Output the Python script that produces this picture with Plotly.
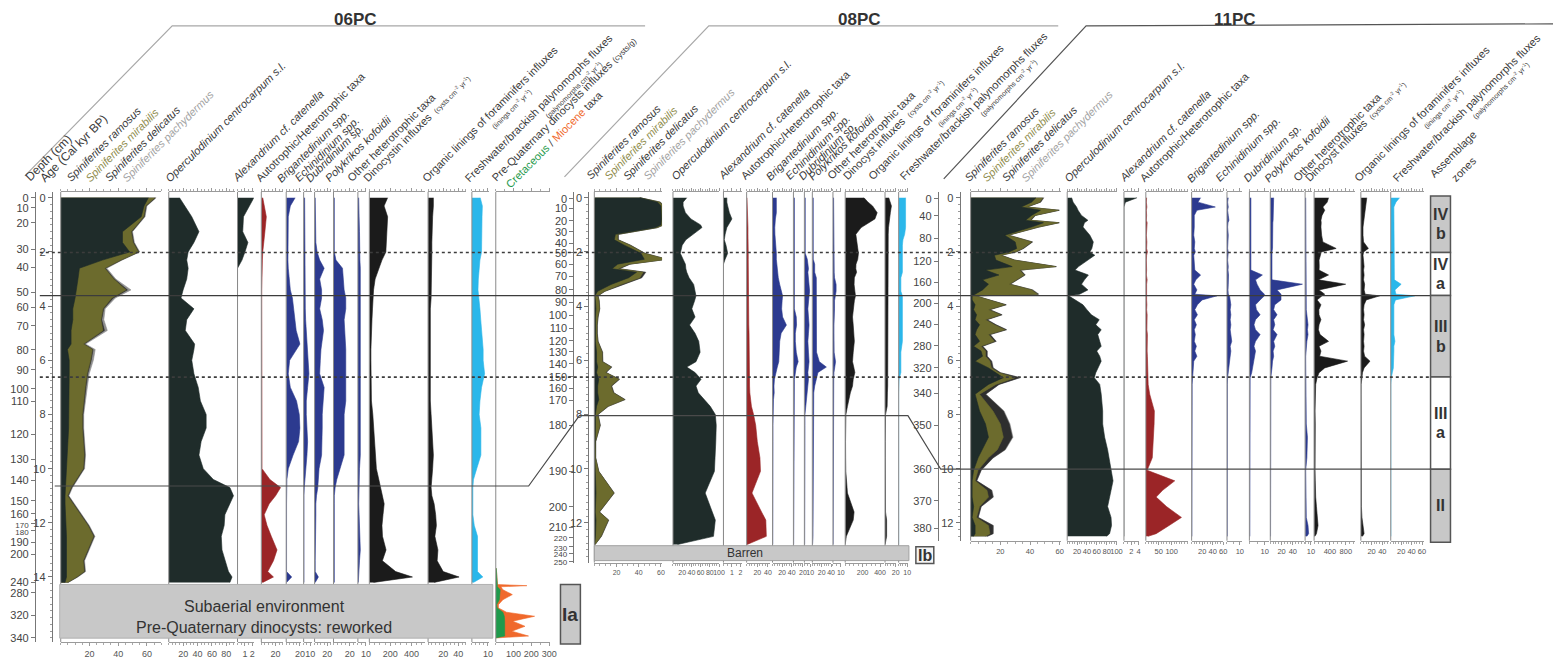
import plotly.graph_objects as go

W, H = 1562, 663
FONT = "Liberation Sans"
TXT = "#3a3a3a"

# Common vertical scale: every core is drawn against calibrated age (kyr BP)
AGE0_PX, PX_PER_KYR, TOP_PX = 199.0, 27.25, 193.0


def px_x(p):
    return p / W


def px_y(p):
    return 1.0 - p / H


def px_age(p):
    return (p - AGE0_PX) / PX_PER_KYR


C_DARK = "#1f2c2a"
C_MIR = "#6c6b2d"
C_DEL = "#2e2e2e"
C_PACH = "#8f8f8f"
C_RED = "#9b2527"
C_NAVY = "#2c3a8f"
C_BLACK = "#1b1b1b"
C_CYAN = "#2bb7ea"
C_CRET = "#1f9a4c"
C_MIOC = "#f0692c"

# ===================== core 06PC =====================
age06 = [0.0, 0.3, 0.7, 1.25, 1.65, 2.0, 2.3, 2.6, 3.0, 3.4, 3.7, 4.1, 4.5, 4.9, 5.4, 5.6, 6.0, 6.5, 7.0,
         7.5, 8.0, 8.5, 9.0, 9.5, 10.0, 10.4, 10.7, 11.0, 11.3, 11.7, 12.1, 12.5, 13.0, 13.4, 13.8, 14.0, 14.2]
ram06 = [61, 58, 56, 43, 43, 48, 29, 13, 12, 11, 10, 8.4, 8.4, 7.2, 7.2, 4.7, 5.9, 5.9, 5.9, 5.9, 6, 5.5,
         5, 4.5, 4, 3.5, 3, 3, 3, 3.5, 4, 4, 4, 4, 4, 4, 3]
mir06 = [4.5, 1, 1.7, 6, 7.3, 6, 12.7, 17.6, 24.8, 34.4, 25.5, 21, 19.6, 22.2, 8.6, 17.3, 14.8, 12.4, 11.1,
         9.9, 9, 9.5, 10.6, 11.8, 11.6, 7.6, 4.2, 1.7, 5.5, 10.2, 14.9, 18.8, 14.9, 11.6, 12.3, 7, 1.7]
del06 = [0.5, 0.5, 0.5, 0.5, 0.5, 0.5, 0.5, 0.5, 0.5, 1, 1, 0.5, 0.5, 1, 0.5, 0.5, 0.5, 0.5, 0.5, 0.5,
         0.5, 0.5, 0.5, 0.5, 0.5, 0.5, 0.5, 0.5, 0.5, 0.5, 0.5, 0.5, 0.5, 0.5, 0.5, 0.5, 0.3]
pach06 = [0.5, 0.5, 0.5, 0.5, 0.5, 0.5, 0.5, 1, 1, 2.5, 1.5, 1, 1.5, 2, 1, 1.5, 1.5, 1, 1, 1, 0.5, 0.5,
          0.5, 0.5, 0.5, 0.5, 0.5, 0.5, 0.5, 0.5, 0.5, 0.5, 0.5, 0.5, 0.5, 0.5, 0.3]
op06 = [15, 22, 32, 42, 35, 27, 25, 27, 25, 20, 17, 35, 25, 23, 36, 35, 32, 35, 41, 44, 52, 52, 45, 42,
        48, 62, 85, 90, 85, 78, 77, 73, 74, 78, 83, 88, 85]
alex06 = [2.2, 1.6, 0.8, 0.7, 1.4, 1.0, 0.6, 0, 0, 0, 0, 0, 0, 0, 0, 0, 0, 0, 0, 0, 0, 0, 0, 0, 0, 0, 0,
          0, 0, 0, 0, 0, 0, 0, 0, 0, 0]
auto06 = [2, 4, 7, 5, 3, 2, 1.5, 1, 0.8, 0.6, 0.6, 0.6, 0.5, 0.5, 0.5, 0.5, 0.5, 0.5, 0.5, 0.5, 0.5, 0.5,
          0.5, 0.6, 1, 12, 27, 20, 11, 4, 8, 14, 22, 17, 9, 17, 2]
brig06 = [13, 6, 3, 2.5, 2.5, 2.5, 2.5, 3, 4, 6, 9, 11, 13, 14.5, 20, 15, 5, 3, 6, 15, 19, 20, 18, 10, 3,
          1, 0.5, 0.5, 0.5, 0.5, 0.5, 0.5, 0.5, 0.5, 0.5, 8, 0.5]
echi06 = [1.5, 1.5, 1.5, 1.5, 1.5, 1.5, 1.5, 2, 2, 2, 2, 2.5, 3, 4, 5, 5, 7, 8, 6, 4, 4, 5, 6, 5, 3, 2, 1,
          0.5, 0.5, 0.5, 0.5, 0.5, 0.5, 0.5, 0.5, 0.5, 0.5]
dubr06 = [1, 1, 1, 1, 2, 4, 8, 15, 8, 11, 11, 8, 12, 14, 11, 10, 9, 8, 15, 13, 12, 12, 12, 11, 7, 6, 5, 3,
          2, 2, 1.5, 1.5, 1, 1, 1, 6, 1]
poly06 = [1, 1, 1, 1, 1, 1, 3, 11, 12, 13, 15, 15, 13, 14, 15, 15, 15, 15, 15, 15, 13, 13, 13, 13, 8, 4, 2,
          1, 1, 1, 1, 1, 1, 1, 1, 1, 1]
othr06 = [1, 1, 1.5, 2, 2, 2, 2.5, 3, 3, 3, 3.5, 3, 3, 3, 3, 3, 3, 3, 3, 3, 3, 3, 3, 3, 2, 1.5, 1, 1, 1,
          1.5, 2, 3, 3, 2, 1, 1, 0.5]
dino06 = [174, 140, 174, 165, 160, 157, 120, 89, 55, 40, 38, 30, 25, 20, 15, 15, 15, 15, 15, 20, 33, 40,
          50, 60, 67, 90, 105, 124, 141, 130, 120, 125, 159, 124, 250, 410, 40]
orgl06 = [7, 7, 6, 5, 5, 5, 5, 4, 4, 4, 4, 3, 3, 3, 3, 3, 3, 3, 3, 3, 4, 5, 6, 7, 6, 5, 4, 5, 8, 10, 11, 9,
          13, 12, 20, 41, 8]
frsh06 = [5.2, 6.5, 6.3, 6, 6, 6, 5, 4.5, 4, 3.8, 4.5, 5, 5.5, 6, 6.5, 7, 7, 7.9, 6, 5, 4.5, 5.6, 5.6, 5.6,
          3, 1, 0.6, 0.6, 0.6, 0.6, 1.5, 3.5, 3.5, 3.5, 3.5, 6.8, 1]
# pre-Quaternary (reworked) dinocysts below the subaerial surface
pq_age = [13.68, 13.98, 14.28, 14.32, 14.36, 14.47, 14.65, 14.84, 15.02, 15.14, 15.3, 15.45, 15.63, 15.82,
          16.0, 16.18, 16.25]
cret06 = [3, 6, 8, 9, 9, 25, 22, 20, 5, 8, 40, 48, 50, 52, 50, 50, 0]
mioc06 = [0, 0, 2, 166, 20, 15, 71, 20, 10, 7, 20, 170, 45, 112, 40, 134, 0]
depth06 = [0, 10, 20, 30, 40, 50, 60, 70, 80, 90, 100, 110, 120, 130, 140, 150, 160, 170, 180, 190, 200,
           240, 280, 320, 340]
dage06 = [0.0, 0.37, 0.92, 1.91, 2.57, 3.49, 4.04, 4.73, 5.61, 6.35, 7.05, 7.52, 8.73, 9.65, 10.42, 11.19,
          11.67, 12.04, 12.29, 12.73, 13.17, 14.19, 14.59, 15.41, 16.25]

# ===================== core 08PC =====================
age08 = [0.00, 0.16, 0.30, 0.55, 0.78, 1.00, 1.10, 1.35, 1.55, 1.75, 2.05, 2.27, 2.45, 2.62, 2.75, 2.95,
         3.20, 3.45, 3.62, 3.80, 4.10, 4.40, 4.70, 5.00, 5.30, 5.70, 6.05, 6.25, 6.45, 6.70, 6.95, 7.20,
         7.45, 7.70, 8.00, 8.40, 9.00, 9.60, 10.10, 10.90, 11.60, 11.90, 12.50, 12.80]
ram08 = [41, 57, 60, 60.5, 60.5, 60, 55, 19, 18, 27, 42, 45, 21, 16, 38, 31, 15, 3, 0.5, 1, 1.5, 1, 0.8,
         0.8, 1, 2, 2, 3, 2, 4, 3, 3, 4, 2, 1, 1, 0.5, 0.5, 0.8, 1.5, 0.8, 1.5, 1, 0.3]
mir08 = [0, 2, 2, 2, 2, 2, 1.5, 2, 3, 5, 3, 20, 10, 5, 6, 10, 9, 6, 2.5, 3, 3, 2, 1.5, 1.5, 2, 5, 5, 12,
         8, 18, 12, 14, 23, 10, 2, 4, 0.5, 0.5, 3, 16, 3.5, 11, 5, 0.3]
del08 = [0.3, 0.3, 0.3, 0.3, 0.3, 0.3, 0.3, 0.5, 0.5, 0.5, 0.5, 0.5, 1, 1.5, 2, 1.5, 1, 0.5, 0.3, 0.3,
         0.3, 0.3, 0.3, 0.3, 0.3, 0.3, 0.5, 0.5, 0.5, 0.5, 0.5, 0.5, 0.5, 0.5, 0.3, 0.3, 0.2, 0.2, 0.2,
         0.3, 0.3, 0.3, 0.3, 0.1]
pach08 = [0.3, 0.5, 0.5, 0.5, 0.5, 0.5, 0.5, 0.3, 0.3, 0.3, 0.5, 0.8, 0.5, 0.3, 0.5, 0.5, 0.5, 0.3, 0.2,
          0.2, 0.2, 0.2, 0.2, 0.2, 0.2, 0.3, 0.3, 0.5, 0.3, 0.5, 0.3, 0.3, 0.5, 0.3, 0.2, 0.2, 0.1, 0.1,
          0.1, 0.3, 0.2, 0.3, 0.2, 0.1]
op08 = [30, 22, 22, 27, 39, 60, 63, 45, 28, 20, 16, 22, 27, 28, 30, 35, 45, 48, 50, 47, 41, 48, 36, 48,
        56, 59, 50, 30, 48, 61, 50, 55, 67, 81, 92, 94, 93, 92, 90, 70, 85, 92, 88, 10]
alex08 = [0.4, 0.4, 0.5, 0.7, 1.0, 0.6, 0.4, 0.2, 0.1, 0.3, 0.5, 0.2, 0, 0, 0, 0, 0, 0, 0, 0, 0, 0, 0, 0,
          0, 0, 0, 0, 0, 0, 0, 0, 0, 0, 0, 0, 0, 0, 0, 0, 0, 0, 0, 0]
auto08 = [0.6, 1, 1.5, 2, 2, 2.5, 2.5, 2.5, 3, 3, 3, 3, 3, 3, 3.5, 3.5, 3.5, 4, 4, 4, 4, 4, 4, 4.5, 4.5,
          4.5, 5, 5, 5, 5, 5.5, 6, 7, 9, 13, 17, 20, 25, 26, 10, 28, 36, 37, 1]
brig08 = [8, 8, 8, 8, 6, 5, 4.7, 5, 6, 7, 8, 8, 9, 9, 10, 12, 15, 19, 21, 20, 19, 21, 29, 18, 15, 14, 13,
          10, 7, 4, 3, 3.5, 2, 1.5, 1, 1, 1, 1, 1, 1, 1, 1, 1, 0.5]
echi08 = [2, 2, 2, 2, 2, 2, 2, 2, 2, 2, 2, 2, 2, 2, 2, 2, 2, 2, 2, 2, 2, 6, 6.6, 4, 4, 6, 10, 6, 4, 2, 2,
          2, 2, 2, 1, 1, 1, 1, 1, 1, 1, 1, 1, 0.5]
dubr08 = [1.5, 1.5, 1.5, 1.5, 1.5, 1.5, 1.5, 1.5, 1.5, 1.5, 1.5, 5, 6, 7, 6, 7, 8, 9, 8, 7, 6, 7, 8, 7, 6,
          7, 8, 7, 6, 7, 6, 5, 4, 2, 1, 1, 1, 1, 1, 1, 1, 1, 1, 0.5]
poly08 = [2, 2, 2, 2, 2, 2, 2, 2, 2, 2, 2, 2, 5, 5, 5, 8.5, 8.5, 8.5, 8.5, 8.5, 8.5, 8.5, 8.5, 8, 8.5, 9,
          15, 30, 12, 8, 5, 3, 3, 3, 1.4, 1.4, 1.4, 1.4, 1.4, 1.4, 1.4, 1.4, 1.4, 0.5]
othr08 = [0.8, 0.8, 0.8, 0.8, 0.8, 0.8, 0.8, 0.8, 0.8, 0.8, 0.8, 0.8, 0.8, 1.3, 1.6, 2, 4, 4, 3, 2, 2,
          1.3, 1.3, 1.3, 1.3, 1.5, 3.3, 2, 1.3, 1, 1, 1, 1, 1, 0.5, 0.3, 0.3, 0.3, 0.3, 0.3, 0.3, 0.3,
          0.3, 0.2]
dino08 = [216, 262, 314, 367, 341, 223, 183, 122, 131, 144, 152, 144, 124, 122, 131, 105, 102, 111, 118,
          105, 92, 84, 92, 102, 105, 92, 84, 98, 111, 92, 84, 59, 39, 26, 8, 4, 4, 5, 7, 26, 102, 92, 13, 0]
orgl08 = [7, 9, 12, 10, 8, 7, 6.5, 6, 6, 6, 5.5, 5.5, 5, 5, 5.5, 5, 5, 5.5, 6, 6, 5.5, 5, 5, 5.5, 6, 5.5,
          5, 5, 5.5, 5, 5, 4.5, 4.5, 4, 1, 0.5, 0.5, 0.5, 0.5, 0.5, 1, 3, 3, 0.2]
frsh08 = [8.1, 8.1, 8.1, 8.1, 8.1, 8.1, 8.1, 7, 5, 4.4, 4.4, 4.4, 4.4, 4.4, 4.4, 2.6, 2.6, 2.6, 4.4, 4.4,
          4.4, 4.4, 4.4, 4.4, 4.4, 2.6, 2.6, 2.6, 2.6, 0.5, 0, 0, 0, 0, 0, 0, 0, 0, 0, 0, 0, 0, 0, 0]
depth08 = [0, 10, 20, 30, 40, 50, 60, 70, 80, 90, 100, 110, 120, 130, 140, 150, 160, 170, 180, 190, 200,
           210, 220, 230, 240, 250]
dage08 = [0.04, 0.40, 0.85, 1.25, 1.69, 2.03, 2.46, 2.91, 3.40, 3.85, 4.34, 4.81, 5.28, 5.69, 6.13, 6.61,
          7.03, 7.47, 8.39, 10.10, 11.41, 12.17, 12.54, 12.88, 13.13, 13.41]

# ===================== core 11PC =====================
age11 = [0.00, 0.16, 0.34, 0.46, 0.65, 0.83, 0.92, 1.08, 1.38, 1.63, 1.87, 2.00, 2.12, 2.30, 2.54, 2.67,
         2.85, 3.03, 3.19, 3.40, 3.56, 3.62, 3.77, 3.95, 4.13, 4.32, 4.50, 4.69, 4.87, 5.05, 5.30, 5.48,
         5.66, 5.85, 6.03, 6.28, 6.46, 6.64, 6.89, 7.25, 7.87, 8.35, 8.84, 9.30, 9.60, 10.06, 10.45,
         10.80, 11.05, 11.40, 11.80, 12.10, 12.40, 12.50]
ram11 = [44, 41, 34, 47, 41, 37, 49, 41, 23, 30, 31, 26, 16, 17, 28, 10, 19, 8, 12, 8, 3, 1, 1, 3, 2, 4,
         3, 6, 4, 3, 6, 2, 7, 8, 3, 12, 17, 22, 12, 3, 6, 10, 12, 8, 5, 2, 1, 1, 1, 2, 1, 3, 3, 2]
mir11 = [4.5, 5.5, 3.4, 12, 2, 3, 10, 4.5, 2, 11, 4, 4, 4, 12, 29, 23, 17, 23, 14, 33, 42, 2, 11, 20, 10,
         16, 7, 10, 19, 9, 10, 5, 3, 2, 10, 2, 2, 8, 5, 3, 9, 10, 10, 10, 7, 3, 2, 10, 11, 4, 3, 9, 10, 8]
del11 = [0.5, 0.5, 0.5, 0.5, 0.5, 0.5, 0.5, 0.5, 0.5, 0.5, 0.5, 0.5, 0.5, 0.5, 0.5, 0.5, 0.5, 0.5, 0.5,
         0.5, 0.5, 0.3, 0.5, 0.8, 0.8, 1, 1, 1, 1, 1, 1, 1, 1, 1, 1, 1, 1, 3, 2, 4, 7, 6, 6, 5, 3, 2, 1, 3,
         3, 1, 1, 3, 2, 1]
pach11 = [0.4, 0.3, 0.3, 0.5, 0.3, 0.3, 0.5, 0.3, 0.3, 0.4, 0.3, 0.3, 0.3, 0.4, 0.6, 0.4, 0.4, 0.4, 0.3,
          0.5, 0.6, 0.2, 0.3, 0.4, 0.3, 0.3, 0.3, 0.3, 0.4, 0.3, 0.3, 0.3, 0.3, 0.3, 0.3, 0.3, 0.3, 0.5,
          0.3, 0.3, 0.5, 0.5, 0.5, 0.5, 0.3, 0.2, 0.2, 0.4, 0.4, 0.2, 0.2, 0.4, 0.3, 0.2]
op11 = [9, 12, 19, 22, 29, 42, 35, 32, 46, 53, 50, 46, 56, 42, 23, 16, 43, 35, 29, 42, 25, 3, 16, 32, 40,
        49, 65, 58, 69, 62, 66, 69, 60, 66, 69, 62, 58, 55, 66, 69, 72, 72, 76, 82, 85, 89, 93, 89, 86, 82,
        89, 90, 86, 80]
alex11 = [3.6, 0.4, 0, 0, 0, 0, 0, 0, 0, 0, 0, 0, 0, 0, 0, 0, 0, 0, 0, 0, 0, 0, 0, 0, 0, 0, 0, 0, 0, 0,
          0, 0, 0, 0, 0, 0, 0, 0, 0, 0, 0, 0, 0, 0, 0, 0, 0, 0, 0, 0, 0, 0, 0, 0]
auto11 = [3, 2, 4, 2, 3, 2, 5, 3, 2, 4, 3, 6, 3, 2, 4, 3, 2, 5, 3, 2, 4, 2, 3, 4, 3, 5, 4, 5, 4, 6, 5, 6,
          5, 6, 7, 6, 7, 8, 9, 15, 33, 32, 30, 28, 25, 5, 112, 65, 40, 80, 138, 90, 40, 8]
brig11 = [17, 12, 45, 10, 5, 5, 6, 5, 4, 6, 5, 7, 4, 5, 6, 6, 17, 8, 4, 10, 6, 48, 20, 11, 6, 11, 5, 9, 5,
          7, 5, 9, 6, 10, 4, 3, 2, 1.5, 1, 1, 1, 1, 1, 1, 1, 1, 1, 1, 1, 1, 1, 1, 1, 0.5]
echi11 = [1, 0.5, 1, 0.5, 1, 1.5, 0.8, 0.5, 1, 0.8, 0.5, 1, 0.8, 0.5, 1, 0.8, 1.2, 0.8, 1, 0.8, 1, 2, 2.5,
          3, 2.5, 3, 2.5, 3, 2.5, 3, 3.7, 2.5, 3, 2.5, 2, 1.5, 1, 0.5, 0.3, 0.3, 0.3, 0.3, 0.3, 0.3, 0.3,
          0.3, 0.3, 0.3, 0.3, 0.3, 0.3, 0.3, 0.3, 0.2]
dubr11 = [1, 1, 1, 1, 1, 1, 1, 1, 1, 1, 1, 1, 1, 1, 1, 1, 8.5, 4, 5, 7, 9.8, 9.8, 7, 4, 4.6, 7, 4, 3, 4,
          7, 4, 3, 4, 3.5, 3, 2, 1.5, 0.5, 0.5, 0.5, 0.5, 0.5, 0.5, 0.5, 0.5, 0.5, 0.5, 0.5, 0.5, 0.5,
          0.5, 0.5, 0.5, 0.3]
poly11 = [6, 6, 5, 5, 5, 5, 4.5, 4.5, 4.5, 4, 4, 3, 3, 3, 3, 3, 3, 3, 57, 12, 19, 19, 19, 8, 6, 12, 6, 8,
          5, 12, 6, 8, 5, 6, 4, 3, 2, 1, 1, 1, 1, 1, 1, 1, 1, 1, 1, 1, 1, 1, 1, 1, 1, 0.5]
othr11 = [1, 1, 1, 1, 1, 1, 1, 1, 1, 1, 1, 1, 1, 1, 1, 1, 1, 1, 1, 1, 1, 1, 1, 1.5, 2, 3, 4, 5, 4, 5, 3,
          2, 1.5, 1, 1, 1, 1, 1, 1, 1, 1, 2, 4, 4, 3, 1, 1, 1, 1, 1, 2, 5, 6, 3]
dino11 = [365, 330, 221, 269, 200, 173, 180, 173, 190, 221, 557, 180, 160, 125, 130, 125, 365, 110, 797,
          125, 269, 200, 77, 173, 120, 125, 173, 125, 110, 150, 365, 125, 173, 140, 845, 269, 125, 77, 40,
          30, 25, 30, 25, 30, 25, 25, 30, 25, 40, 60, 90, 100, 60, 20]
orgl11 = [11, 10, 8, 7, 6, 5, 5, 4, 4, 5, 14, 5, 4, 5, 6, 5, 6, 5, 7, 6, 8, 35, 10, 6, 5, 6, 5, 7, 5, 6,
          5, 6, 5, 7, 17, 6, 3, 2, 0.5, 0.5, 0.5, 0.5, 0.5, 0.5, 0.5, 0.5, 0.5, 0.5, 0.5, 1, 2, 4, 6, 3]
frsh11 = [17, 10, 6, 6, 6, 6, 6, 6, 6, 6, 6, 6, 6, 6, 6, 6, 6, 7, 20, 8, 10, 46, 9, 6, 6, 6, 6, 6, 6, 6,
          8, 6, 6, 6, 6, 5, 3, 1, 0.3, 0.3, 0.3, 0.3, 0.3, 0.3, 0.3, 0.3, 0.3, 0.3, 0.3, 0.3, 0.3, 0.3,
          0.3, 0.3]
depth11 = [0, 40, 80, 120, 160, 200, 240, 280, 320, 340, 350, 360, 370, 380]
dage11 = [0.04, 0.67, 1.50, 2.34, 3.12, 3.89, 4.68, 5.46, 6.28, 7.22, 8.41, 10.01, 11.19, 12.21]

# zone boundaries (kyr) and tie lines between cores
zone_dotted = [2.02, 6.62]
zone_solid = [3.61]
zone_names = ["IV|b", "IV|a", "III|b", "III|a", "II"]
zone_top = [-0.07, 2.02, 3.61, 6.62, 10.02]
zone_bot = [2.02, 3.61, 6.62, 10.02, 12.72]
zone_fill = ["#c8c8c8", "#ffffff", "#c8c8c8", "#ffffff", "#c8c8c8"]
tie06, tie08, tie11 = 10.64, 8.04, 10.02

for name, arr, n in [("06", [ram06, mir06, del06, pach06, op06, alex06, auto06, brig06, echi06, dubr06,
                             poly06, othr06, dino06, orgl06, frsh06], len(age06)),
                     ("08", [ram08, mir08, del08, pach08, op08, alex08, auto08, brig08, echi08, dubr08,
                             poly08, othr08, dino08, orgl08, frsh08], len(age08)),
                     ("11", [ram11, mir11, del11, pach11, op11, alex11, auto11, brig11, echi11, dubr11,
                             poly11, othr11, dino11, orgl11, frsh11], len(age11))]:
    for i, a in enumerate(arr):
        assert len(a) == n, (name, i, len(a), n)


def panel(x0, x1, xmax, labels, minor, layers):
    return dict(x0=x0, x1=x1, xmax=xmax, labels=labels, minor=minor, layers=layers)


def spin(ages, r, m, d, p):
    return [(ages, r, C_DARK), (ages, m, C_MIR), (ages, d, C_DEL), (ages, p, C_PACH)]


cores = [
    dict(yid="y", ydep="y2", bottom=646, age_line=52, depth_line=35, age_ticks=[0, 2, 4, 6, 8, 10, 12, 14],
         depths=depth06, dages=dage06, tight=[170, 180], tick_size=9, panels=[
            panel(61, 162, 70, [20, 40, 60], 5, spin(age06, ram06, mir06, del06, pach06)),
            panel(169.5, 236, 92, [20, 40, 60, 80], 5, [(age06, op06, C_DARK)]),
            panel(238.6, 255, 2.2, [1, 2], 0.5, [(age06, alex06, C_DARK)]),
            panel(262.5, 284, 30, [20], 5, [(age06, auto06, C_RED)]),
            panel(287.5, 302, 21, [20], 5, [(age06, brig06, C_NAVY)]),
            panel(305, 313, 12, [10], 5, [(age06, echi06, C_NAVY)]),
            panel(316, 332, 25, [20], 5, [(age06, dubr06, C_NAVY)]),
            panel(335, 358, 28, [20], 5, [(age06, poly06, C_NAVY)]),
            panel(359.5, 368, 10.5, [10], 5, [(age06, othr06, C_NAVY)]),
            panel(371, 427, 530, [200, 400], 50, [(age06, dino06, C_BLACK)]),
            panel(430, 468, 50, [20, 40], 5, [(age06, orgl06, C_BLACK)]),
            panel(474, 491, 10.5, [10], 2.5, [(age06, frsh06, C_CYAN)]),
            panel(498, 552, 302, [100, 200, 300], 50, [(pq_age, cret06, C_CRET), (pq_age, mioc06, C_MIOC)]),
         ]),
    dict(yid="y3", ydep="y4", bottom=566, age_line=591, depth_line=576, age_ticks=[0, 2, 4, 6, 8, 10, 12],
         depths=depth08, dages=dage08, tight=[220, 230, 240, 250], tick_size=7, panels=[
            panel(597, 665, 61, [20, 40, 60], 5, spin(age08, ram08, mir08, del08, pach08)),
            panel(676, 722.7, 101, [20, 40, 60, 80, 100], 5, [(age08, op08, C_DARK)]),
            panel(726.7, 745, 2.15, [1, 2], 0.5, [(age08, alex08, C_DARK)]),
            panel(750, 773, 43, [20, 40], 5, [(age08, auto08, C_RED)]),
            panel(776, 795.5, 40.5, [20, 40], 5, [(age08, brig08, C_NAVY)]),
            panel(797, 807, 21, [20], 5, [(age08, echi08, C_NAVY)]),
            panel(808, 814, 10.2, [10], 5, [(age08, dubr08, C_NAVY)]),
            panel(816, 835, 40.5, [20, 40], 5, [(age08, poly08, C_NAVY)]),
            panel(836.7, 845, 10.5, [10], 5, [(age08, othr08, C_NAVY)]),
            panel(849, 887.5, 440, [200, 400], 50, [(age08, dino08, C_BLACK)]),
            panel(889, 900, 20.5, [20], 5, [(age08, orgl08, C_BLACK)]),
            panel(902.7, 911.7, 10.5, [10], 2.5, [(age08, frsh08, C_CYAN)]),
         ]),
    dict(yid="y5", ydep="y6", bottom=544, age_line=964, depth_line=942, age_ticks=[0, 2, 4, 6, 8, 10, 12],
         depths=depth11, dages=dage11, tight=[], tick_size=7.5, panels=[
            panel(975, 1066, 61, [20, 40, 60], 5, spin(age11, ram11, mir11, del11, pach11)),
            panel(1072, 1122, 101, [20, 40, 60, 80, 100], 5, [(age11, op11, C_DARK)]),
            panel(1129, 1144, 4.1, [2, 4], 1, [(age11, alex11, C_DARK)]),
            panel(1151, 1193, 162, [50, 100], 10, [(age11, auto11, C_RED)]),
            panel(1197, 1229, 60.5, [20, 40, 60], 5, [(age11, brig11, C_NAVY)]),
            panel(1232.5, 1248, 12, [10], 5, [(age11, echi11, C_NAVY)]),
            panel(1255, 1275, 13, [10], 5, [(age11, dubr11, C_NAVY)]),
            panel(1276, 1310, 60, [20, 40], 5, [(age11, poly11, C_NAVY)]),
            panel(1311, 1318, 12, [10], 5, [(age11, othr11, C_NAVY)]),
            panel(1320, 1361, 1030, [400, 800], 100, [(age11, dino11, C_BLACK)]),
            panel(1367, 1395, 52, [20, 40], 5, [(age11, orgl11, C_BLACK)]),
            panel(1397, 1430, 63, [20, 40, 60], 5, [(age11, frsh11, C_CYAN)]),
         ]),
]

fig = go.Figure()
layout = {}
shapes = []
annos = []
n_ax = 0
for core in cores:
    yid = core["yid"]
    yrng = [px_age(core["bottom"]), px_age(TOP_PX)]
    ydom = [px_y(core["bottom"]), px_y(TOP_PX)]
    tickfont = dict(family=FONT, size=11, color="#444")
    layout["yaxis" + yid[1:]] = dict(
        domain=ydom, range=yrng, anchor="free", position=px_x(core["age_line"]), side="left",
        showline=True, linecolor="#777", linewidth=1, ticks="outside", ticklen=4, tickcolor="#777",
        tickmode="array", tickvals=core["age_ticks"], ticktext=[str(t) for t in core["age_ticks"]],
        tickfont=tickfont, showgrid=False, zeroline=False, fixedrange=True,
        minor=dict(ticks="outside", ticklen=2, tickmode="linear", tick0=0, dtick=0.25, tickcolor="#999",
                   showgrid=False))
    # closely spaced depth labels near the core base are set a little smaller
    dtext = ["<span style='font-size:8px'>%d</span>" % d if d in core["tight"] else str(d)
             for d in core["depths"]]
    layout["yaxis" + core["ydep"][1:]] = dict(
        overlaying=yid, range=yrng, anchor="free", position=px_x(core["depth_line"]), side="left",
        showline=True, linecolor="#777", linewidth=1, ticks="outside", ticklen=4, tickcolor="#777",
        tickmode="array", tickvals=core["dages"], ticktext=dtext,
        tickfont=tickfont, showgrid=False, zeroline=False, fixedrange=True)
    first_x = None
    for p in core["panels"]:
        n_ax += 1
        xid = "x" if n_ax == 1 else "x%d" % n_ax
        first_x = first_x or xid
        layout["xaxis" + xid[1:]] = dict(
            domain=[px_x(p["x0"]), px_x(p["x1"])], range=[0, p["xmax"]], anchor=yid, side="bottom",
            showline=True, linecolor="#9a9a9a", linewidth=1, mirror="ticks", ticks="outside", ticklen=3,
            tickcolor="#9a9a9a", tickmode="array", tickvals=p["labels"],
            ticktext=[str(v) for v in p["labels"]], tickangle=0, ticklabeloverflow="allow",
            tickfont=dict(family=FONT, size=core["tick_size"], color="#555"), showgrid=False,
            zeroline=False, fixedrange=True,
            minor=dict(ticks="outside", ticklen=2, tickmode="linear", tick0=0, dtick=p["minor"],
                       tickcolor="#aaa", showgrid=False))
        # stacked curves: cumulative sums drawn from the outermost inwards
        cum = []
        running = None
        for ages, vals, col in p["layers"]:
            running = list(vals) if running is None else [a + b for a, b in zip(running, vals)]
            cum.append((ages, running, col))
        for ages, vals, col in reversed(cum):
            fig.add_trace(go.Scatter(x=vals, y=ages, xaxis=xid, yaxis=yid, mode="lines", fill="tozerox",
                                     fillcolor=col, line=dict(color=col, width=0.6), hoverinfo="skip",
                                     showlegend=False))
        shapes.append(dict(type="line", xref="paper", yref="paper", x0=px_x(p["x0"]), x1=px_x(p["x0"]),
                           y0=px_y(core["bottom"]), y1=px_y(TOP_PX), line=dict(color="#8a8a8a", width=1),
                           layer="above"))
    # empty series that binds the depth scale to this core's panels so it gets drawn
    fig.add_trace(go.Scatter(x=[None], y=[None], xaxis=first_x, yaxis=core["ydep"], mode="lines",
                             hoverinfo="skip", showlegend=False))

# zone boundaries across all cores
for a in zone_dotted:
    shapes.append(dict(type="line", xref="paper", yref="y", x0=px_x(40), x1=px_x(1437), y0=a, y1=a,
                       line=dict(color="#3c3c3c", width=1.6, dash="dot"), layer="above"))
for a in zone_solid:
    shapes.append(dict(type="line", xref="paper", yref="y", x0=px_x(40), x1=px_x(1437), y0=a, y1=a,
                       line=dict(color="#3c3c3c", width=1.2), layer="above"))
# tie line 06PC -> 08PC -> 11PC
tie_path = "M %f,%f L %f,%f L %f,%f L %f,%f L %f,%f L %f,%f" % (
    px_x(55), tie06, px_x(531), tie06, px_x(582), tie08, px_x(912), tie08, px_x(945), tie11,
    px_x(1437), tie11)
shapes.append(dict(type="path", xref="paper", yref="y", path=tie_path,
                   line=dict(color="#4a4a4a", width=1.2), layer="above"))

# assemblage zone column of 11PC
for nm, t, b, fc in zip(zone_names, zone_top, zone_bot, zone_fill):
    shapes.append(dict(type="rect", xref="paper", yref="y", x0=px_x(1437), x1=px_x(1457), y0=t, y1=b,
                       fillcolor=fc, line=dict(color="#555", width=1.5), layer="above"))
    parts = nm.split("|")
    mid = (t + b) / 2
    offs = [-0.36, 0.36] if len(parts) == 2 else [0.0]
    for part, o in zip(parts, offs):
        annos.append(dict(xref="paper", yref="y", x=px_x(1447), y=mid + o, text="<b>%s</b>" % part,
                          xanchor="center", yanchor="middle", showarrow=False,
                          font=dict(family=FONT, size=16, color="#333")))


def box(x0, y0, x1, y1, fill, edge, w=1):
    shapes.append(dict(type="rect", xref="paper", yref="paper", x0=px_x(x0), x1=px_x(x1), y0=px_y(y1),
                       y1=px_y(y0), fillcolor=fill, line=dict(color=edge, width=w), layer="above"))


box(60, 588, 495, 642, "#c8c8c8", "#b0b0b0")
box(597, 549, 913, 564, "#c8c8c8", "#a0a0a0")
box(563, 588, 583, 648, "#c8c8c8", "#555", 1.5)
box(920, 550, 938, 567, "#f4f4f4", "#555", 1.5)


def text(x, y, s, size, color=TXT):
    annos.append(dict(xref="paper", yref="paper", x=px_x(x), y=px_y(y), text=s, showarrow=False,
                      xanchor="center", yanchor="middle", font=dict(family=FONT, size=size, color=color)))


text(265, 621, "Subaerial environment<br>Pre-Quaternary dinocysts: reworked", 16, "#333")
text(748, 556.5, "Barren", 12, "#333")
text(573, 618, "<b>Ia</b>", 19, "#333")
text(929, 558.5, "<b>Ib</b>", 16, "#333")
for t, x in [("06PC", 357), ("08PC", 863), ("11PC", 1241)]:
    text(x, 20, "<b>%s</b>" % t, 17, "#333")

# header frame lines
for pts, col in [([(25, 177), (173, 26), (648, 26)], "#a8a8a8"),
                 ([(567, 178), (712, 26), (1063, 26)], "#a8a8a8"),
                 ([(948, 180), (1091, 26), (1560, 24)], "#555555")]:
    path = "M " + " L ".join("%f,%f" % (px_x(a), px_y(b)) for a, b in pts)
    shapes.append(dict(type="path", xref="paper", yref="paper", path=path, line=dict(color=col, width=1.2)))


# rotated column headings
def rot(xs, yb, s, size=11, color=TXT):
    h = 1.25 * size + 2
    annos.append(dict(xref="paper", yref="paper", x=px_x(xs + 2), y=px_y(yb), text=s, showarrow=False,
                      textangle=-45, xanchor="left", yanchor="bottom", xshift=-0.707 * h,
                      font=dict(family=FONT, size=size, color=color)))


def rot_sub(xs, yb, along, perp, s, size=7, color=TXT):
    rot(xs + 0.707 * (along + perp), yb + 0.707 * (perp - along), s, size, color)


MIR_T = "#8f8d4e"
PACH_T = "#a3a3a3"
UNIT_C = "<span style='font-size:7px'>(cysts cm<sup>-2</sup> yr<sup>-1</sup>)</span>"
UNIT_L = "(linings cm<sup>-2</sup> yr<sup>-1</sup>)"
UNIT_P = "(palynomorphs cm<sup>-2</sup> yr<sup>-1</sup>)"


def headings(yb, xs, dino_word):
    (sr, sm, sd, sp, op, al, au, br, ec, du, po, ot, di, og, fr) = xs
    rot(sr, yb, "<i>Spiniferites ramosus</i>")
    rot(sm, yb, "<i>Spiniferites mirabilis</i>", color=MIR_T)
    rot(sd, yb, "<i>Spiniferites delicatus</i>")
    rot(sp, yb, "<i>Spiniferites pachydermus</i>", color=PACH_T)
    rot(op, yb, "<i>Operculodinium centrocarpum s.l.</i>")
    rot(al, yb, "<i>Alexandrium cf. catenella</i>")
    rot(au, yb, "Autotrophic/Heterotrophic taxa")
    rot(br, yb, "<i>Brigantedinium spp.</i>")
    rot(ec, yb, "<i>Echinidinium spp.</i>")
    rot(du, yb, "<i>Dubridinium sp.</i>")
    rot(po, yb, "<i>Polykrikos kofoidii</i>")
    rot(ot, yb, "Other heterotrophic taxa")
    rot(di, yb, dino_word + " influxes  " + UNIT_C)
    rot(og, yb, "Organic linings of foraminifers influxes")
    rot_sub(og, yb, 85, 10, UNIT_L)
    rot(fr, yb, "Freshwater/brackish palynomorphs fluxes")
    rot_sub(fr, yb, 100, 10, UNIT_P)


rot(30, 188, "Depth (cm)", 12)
rot(44, 189, "Age (Cal kyr BP)", 12)
headings(188, [71, 90, 109, 127, 170, 237, 261, 282, 300, 311, 330, 353, 369, 428, 471], "Dinocystin")
rot(498, 188, "Pre-Quaternary dinocysts influxes <span style='font-size:8px'>(cysts/g)</span>")
rot_sub(498, 188, 6, 14, "<span style='color:%s'>Cretaceous</span> / <span style='color:%s'>Miocene</span> taxa"
        % (C_CRET, C_MIOC), size=11)
headings(186, [593, 611, 630, 650, 678, 725, 748, 773, 793, 806, 816, 835, 851, 876, 908], "Dinocyst")
headings(188, [973, 991, 1010, 1030, 1073, 1128, 1149, 1196, 1225, 1253, 1274, 1303, 1315, 1364, 1403],
         "Dinocyst")
rot(1440, 184, "Assemblage")
rot(1462, 188, "zones")

layout.update(dict(width=W, height=H, margin=dict(l=0, r=0, t=0, b=0), paper_bgcolor="white",
                   plot_bgcolor="rgba(0,0,0,0)", showlegend=False, shapes=shapes, annotations=annos,
                   font=dict(family=FONT, color=TXT)))
fig.update_layout(**layout)
fig.write_html("out.html")
